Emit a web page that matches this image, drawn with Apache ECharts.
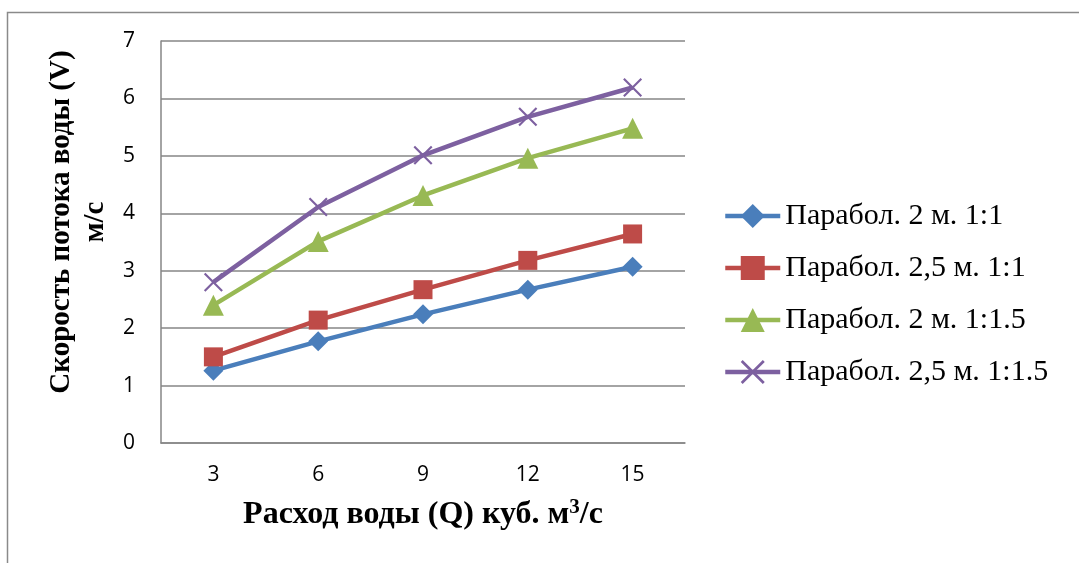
<!DOCTYPE html>
<html>
<head>
<meta charset="utf-8">
<script src="https://cdn.jsdelivr.net/npm/echarts@6/dist/echarts.min.js"></script>
<style>html,body{margin:0;padding:0;background:#fff}#c{width:1079px;height:563px}</style>
</head>
<body>
<div id="c"></div>
<script>
const categories = ['3', '6', '9', '12', '15'];
const seriesNames = ['Парабол. 2 м. 1:1', 'Парабол. 2,5 м. 1:1', 'Парабол. 2 м. 1:1.5', 'Парабол. 2,5 м. 1:1.5'];
const s1 = [1.26, 1.77, 2.24, 2.67, 3.07];
const s2 = [1.50, 2.14, 2.67, 3.18, 3.64];
const s3 = [2.40, 3.51, 4.31, 4.96, 5.48];
const s4 = [2.80, 4.11, 5.01, 5.68, 6.19];
const yTicks = [0, 1, 2, 3, 4, 5, 6, 7];

const colors = ['#4A7EBB', '#BE4B48', '#98B954', '#7D60A0'];
const xSym = 'path://M0,0.8 L0.8,0 L5,4.2 L9.2,0 L10,0.8 L5.8,5 L10,9.2 L9.2,10 L5,5.8 L0.8,10 L0,9.2 L4.2,5 Z';
const symbols = ['diamond', 'rect', 'triangle', xSym];
const sizes = [20, 19, 21, 19];
const data = [s1, s2, s3, s4];

const chart = echarts.init(document.getElementById('c'), null, {renderer: 'canvas'});
chart.setOption({
  backgroundColor: '#fff',
  animation: false,
  graphic: [{
    type: 'rect', silent: true, z: -1,
    shape: {x: 7.5, y: 12.5, width: 1200, height: 1000},
    style: {fill: 'none', stroke: '#8a8a8a', lineWidth: 1.5}
  }],
  grid: {left: 161, top: 41, right: 394, bottom: 120, containLabel: false},
  legend: {
    orient: 'vertical', left: 718, top: 196,
    itemWidth: 55, itemHeight: 30, itemGap: 22,
    lineStyle: {width: 4.5},
    textStyle: {fontFamily: 'Liberation Serif', fontSize: 30, color: '#000'},
    data: seriesNames
  },
  xAxis: {
    type: 'category', data: categories, boundaryGap: true,
    axisLine: {lineStyle: {color: '#868686', width: 1.5}},
    axisTick: {show: false},
    axisLabel: {fontFamily: 'Open Sans', fontSize: 21, color: '#000', margin: 22},
    name: 'Расход воды (Q) куб. м{sup|3}/с', nameLocation: 'middle', nameGap: 54,
    nameTextStyle: {fontFamily: 'Liberation Serif', fontSize: 32, fontWeight: 'bold', color: '#000',
      rich: {sup: {fontFamily: 'Liberation Serif', fontSize: 21, fontWeight: 'bold', color: '#000', padding: [0, 0, 14, 0]}}}
  },
  yAxis: {
    type: 'value', min: 0, max: 7, interval: 1,
    axisLine: {show: true, lineStyle: {color: '#868686', width: 1.5}},
    axisTick: {show: false},
    splitLine: {lineStyle: {color: '#868686', width: 1.5}},
    axisLabel: {fontFamily: 'Open Sans', fontSize: 21, color: '#000', margin: 26},
    name: 'Скорость потока воды (V)\nм/с', nameLocation: 'middle', nameGap: 48, nameRotate: 90,
    nameTextStyle: {fontFamily: 'Liberation Serif', fontSize: 29, fontWeight: 'bold', color: '#000', lineHeight: 34, padding: [0, 0, 0, 40]}
  },
  series: data.map((d, i) => ({
    name: seriesNames[i], type: 'line', data: d,
    symbol: symbols[i], symbolSize: sizes[i], showSymbol: true,
    lineStyle: {color: colors[i], width: 4.5},
    itemStyle: {color: colors[i]},
    z: 2 + i
  }))
});
</script>
</body>
</html>
